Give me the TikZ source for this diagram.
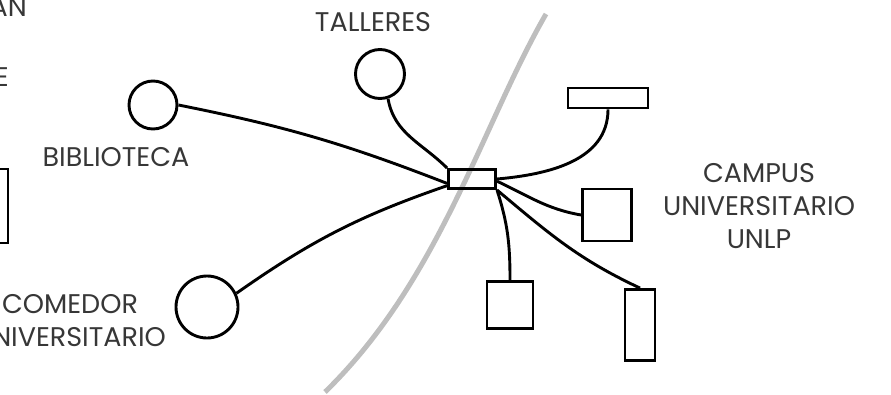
\documentclass[tikz,border=0pt]{standalone}
\usepackage{fontspec}
\setmainfont{Poppins}
\usetikzlibrary{calc}
\definecolor{limitegris}{RGB}{190,190,190}
\definecolor{textogris}{RGB}{55,55,55}
\tikzset{
    lugar/.style={draw, circle, line width=2.9pt, inner sep=0pt},
    edificio/.style={draw, rectangle, line width=2.9pt, inner sep=0pt},
    via/.style={line width=2.9pt},
    limite/.style={line width=5pt, limitegris},
    rotulo/.style={font=\fontsize{27}{33}\selectfont, text=textogris, align=center, inner sep=0pt}
}

\begin{document}
\begin{tikzpicture}[x=1pt,y=-1pt]
\useasboundingbox (0,0) rectangle (891,394);
\clip (0,0) rectangle (891,394);

\draw[limite] (546,14) .. controls (482,125) and (440,280) .. (325,392);

\node[edificio, minimum width=47pt, minimum height=19pt] (centro) at (472,179) {};

\node[lugar, minimum size=49pt] (talleres) at (380,74) {};
\node[rotulo] (talleresrot) at (373,22) {TALLERES};
\node[lugar, minimum size=48pt] (biblioteca) at (153,105) {};
\node[rotulo] (bibliotecarot) at (116,157) {BIBLIOTECA};
\node[lugar, minimum size=62pt] (comedor) at (207,307) {};
\node[rotulo] (comedorrot) at (70,321) {COMEDOR\\UNIVERSITARIO};

\node[edificio, minimum width=80pt, minimum height=20pt] (aulaA) at (608,98) {};
\node[edificio, minimum width=49pt, minimum height=52pt] (aulaB) at (607,215) {};
\node[edificio, minimum width=30pt, minimum height=71pt] (aulaC) at (640,325) {};
\node[edificio, minimum width=46pt, minimum height=47pt] (aulaD) at (510,305) {};
\node[edificio, minimum width=30pt, minimum height=74pt] (aulaE) at (-7,206) {};
\node[rotulo] (campusrot) at (759,206) {CAMPUS\\UNIVERSITARIO\\UNLP};

\node[rotulo, anchor=east] (anrot) at (27,7) {AN};
\node[rotulo, anchor=east] (erot) at (9,77) {E};

\draw[via] (biblioteca.east) to[bend left=5] (centro.190);
\draw[via] (talleres.-72) to[out=-80, in=135] (centro.north west);
\draw[via] (comedor.25) to[bend left=8] (centro.195);

\draw[via] (centro.east) to[out=5, in=-90] (aulaA.south);
\draw[via] (centro.-5) to[out=-25, in=170] (aulaB.west);
\draw[via] (centro.south east) to[out=-40, in=155] (aulaC.north);
\draw[via] (centro.south east) to[out=-72, in=90] (aulaD.north);
\end{tikzpicture}
\end{document}
